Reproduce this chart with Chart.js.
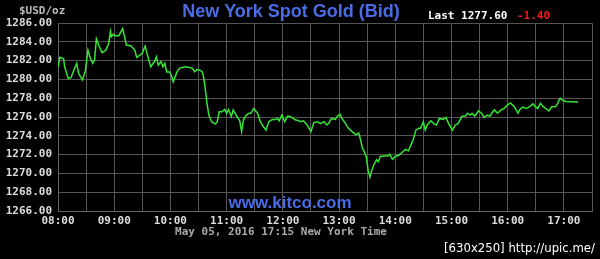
<!DOCTYPE html>
<html>
<head>
<meta charset="utf-8">
<script src="https://cdn.jsdelivr.net/npm/chart.js@4/dist/chart.umd.min.js"></script>
<style>
  html, body { margin: 0; padding: 0; background: #000; }
  #wrap { width: 600px; height: 259px; }
</style>
</head>
<body>
<div id="wrap"><canvas id="goldChart" width="600" height="259"></canvas></div>
<script>
// minutes since midnight, New York time
const times = [
  480, 482, 486, 487, 491, 494, 497, 500, 502, 506, 509, 512, 514, 517, 519, 521, 524, 527, 531, 534,
  536, 537, 539, 541, 545, 549, 551, 553, 558, 562, 564, 568, 570, 573, 576, 579, 583, 585, 587, 590,
  592, 594, 596, 599, 601, 603, 607, 610, 616, 619, 623, 626, 628, 631, 634, 635, 637, 639, 641, 644,
  648, 650, 652, 655, 658, 660, 662, 665, 667, 671, 674, 676, 678, 681, 684, 686, 689, 693, 696, 698,
  702, 705, 709, 711, 714, 716, 719, 722, 725, 728, 731, 733, 737, 739, 742, 746, 750, 753, 757, 760,
  764, 767, 769, 772, 776, 778, 781, 783, 787, 790, 794, 798, 801, 803, 805, 806, 809, 811, 813, 815,
  817, 820, 822, 824, 828, 832, 834, 837, 840, 844, 848, 851, 854, 856, 859, 862, 865, 867, 870, 872,
  874, 878, 881, 884, 887, 891, 894, 897, 901, 904, 907, 911, 915, 917, 920, 922, 925, 929, 932, 935,
  938, 941, 944, 946, 949, 953, 956, 960, 963, 967, 971, 973, 976, 980, 984, 987, 989, 992, 995, 998,
  1002, 1004, 1007, 1011, 1013, 1016, 1019, 1022, 1035
];
const prices = [
  1281.3, 1282.35, 1282.2, 1281.35, 1280.1, 1280.2, 1281.0, 1281.7, 1280.65, 1279.95, 1280.8, 1283.1, 1282.4, 1281.7, 1282.05, 1284.3, 1283.5, 1282.85, 1283.1, 1283.8,
  1285.1, 1284.55, 1284.8, 1284.65, 1284.65, 1285.4, 1284.55, 1283.65, 1283.55, 1283.1, 1282.35, 1282.6, 1282.8, 1283.55, 1282.4, 1281.35, 1281.9, 1282.4, 1281.5, 1281.9,
  1281.35, 1281.7, 1280.8, 1280.8, 1280.45, 1279.75, 1280.8, 1281.2, 1281.35, 1281.3, 1281.2, 1280.8, 1281.05, 1281.0, 1280.8, 1280.45, 1279.2, 1277.45, 1276.2, 1275.5,
  1275.25, 1275.5, 1276.55, 1276.55, 1276.8, 1276.4, 1276.8, 1276.05, 1276.75, 1276.05, 1275.6, 1274.45, 1275.7, 1276.2, 1276.4, 1276.4, 1276.9, 1276.4, 1275.5, 1275.15,
  1274.6, 1275.5, 1275.75, 1275.7, 1275.85, 1275.6, 1276.2, 1275.5, 1276.1, 1276.05, 1275.85, 1275.7, 1275.6, 1275.5, 1275.6, 1275.15, 1274.45, 1275.4, 1275.5, 1275.3,
  1275.5, 1275.15, 1275.35, 1275.85, 1275.75, 1276.05, 1276.3, 1275.85, 1275.3, 1274.8, 1274.45, 1274.1, 1274.3, 1273.55, 1272.65, 1272.5, 1271.8, 1270.35, 1269.6, 1270.35,
  1270.9, 1271.45, 1271.25, 1271.8, 1271.85, 1271.85, 1272.05, 1271.5, 1271.8, 1271.95, 1272.3, 1272.55, 1272.4, 1272.85, 1273.55, 1274.6, 1274.8, 1274.8, 1275.5, 1274.6,
  1275.15, 1275.6, 1275.3, 1275.15, 1275.85, 1275.75, 1275.95, 1275.3, 1274.6, 1275.15, 1275.3, 1276.05, 1276.1, 1276.4, 1276.2, 1276.4, 1276.1, 1276.65, 1276.4, 1275.95,
  1276.2, 1276.1, 1276.55, 1276.75, 1276.4, 1276.75, 1276.9, 1277.3, 1277.5, 1277.1, 1276.4, 1276.8, 1277.05, 1276.9, 1277.15, 1277.4, 1277.15, 1276.9, 1277.45, 1277.1,
  1276.8, 1276.65, 1277.1, 1277.1, 1277.4, 1278.0, 1277.75, 1277.65, 1277.6
];

const yTicks = [1266, 1268, 1270, 1272, 1274, 1276, 1278, 1280, 1282, 1284, 1286];
const xTicks = [480, 510, 540, 570, 600, 630, 660, 690, 720, 750, 780, 810, 840, 870, 900, 930, 960, 990, 1020, 1050];

const titleText = 'New York Spot Gold (Bid)';
const lastText = 'Last 1277.60';
const changeText = '-1.40';
const unitText = '$USD/oz';
const dateText = 'May 05, 2016 17:15 New York Time';
const siteText = 'www.kitco.com';
const stampText = '[630x250] http://upic.me/';

const mono = 'bold 11px "DejaVu Sans Mono", monospace';

const points = times.map((t, i) => ({ x: t, y: prices[i] }));

const fmtTime = (m) => {
  const h = Math.floor(m / 60);
  const mm = m % 60;
  return String(h).padStart(2, '0') + ':' + String(mm).padStart(2, '0');
};

// texts around the plot
const textPlugin = {
  id: 'kitcoTexts',
  afterDraw(chart) {
    const ctx = chart.ctx;
    ctx.save();
    ctx.textBaseline = 'middle';

    ctx.font = 'bold 18px "Liberation Sans", Arial, sans-serif';
    ctx.fillStyle = '#4a6ce6';
    ctx.textAlign = 'center';
    ctx.fillText(titleText, 291, 12);

    ctx.font = mono;
    ctx.textAlign = 'left';
    ctx.fillStyle = '#ffffff';
    ctx.fillText(lastText, 428, 16);
    ctx.fillStyle = '#ff1a1a';
    ctx.fillText(changeText, 517, 16);

    ctx.fillStyle = '#bbbbbb';
    ctx.fillText(unitText, 19, 11);

    ctx.textAlign = 'center';
    ctx.fillStyle = '#aaaaaa';
    ctx.fillText(dateText, 281, 232);

    ctx.font = 'bold 17px "Liberation Sans", Arial, sans-serif';
    ctx.fillStyle = '#4a6ce6';
    ctx.fillText(siteText, 290, 203);

    ctx.font = '13px "DejaVu Sans Condensed", "Liberation Sans Narrow", sans-serif';
    ctx.fillStyle = '#ffffff';
    ctx.textAlign = 'right';
    ctx.fillText(stampText, 595, 249);
    ctx.restore();
  }
};

const bgPlugin = {
  id: 'blackBg',
  beforeDraw(chart) {
    const ctx = chart.ctx;
    ctx.save();
    ctx.fillStyle = '#000';
    ctx.fillRect(0, 0, chart.width, chart.height);
    ctx.restore();
  }
};

const config = {
  type: 'line',
  data: {
    datasets: [{
      data: points,
      borderColor: '#33e633',
      borderWidth: 1.5,
      pointRadius: 0,
      tension: 0,
      fill: false
    }]
  },
  options: {
    responsive: false,
    animation: false,
    events: [],
    layout: { padding: { left: 0, top: 23, right: 8, bottom: 0 } },
    plugins: { legend: { display: false }, tooltip: { enabled: false } },
    scales: {
      x: {
        type: 'linear',
        min: 480,
        max: 1050,
        afterBuildTicks: (scale) => { scale.ticks = xTicks.map(v => ({ value: v })); },
        afterFit: (scale) => { scale.height = 48; },
        grid: { color: '#555', lineWidth: 1, drawTicks: false },
        border: { color: '#666', width: 1 },
        ticks: {
          autoSkip: false,
          maxRotation: 0,
          padding: 4,
          color: '#dddddd',
          font: { family: '"DejaVu Sans Mono", monospace', size: 11, weight: 'bold' },
          callback: (v) => (v % 60 === 0 ? fmtTime(v) : '')
        }
      },
      y: {
        min: 1266,
        max: 1286,
        afterBuildTicks: (scale) => { scale.ticks = yTicks.map(v => ({ value: v })); },
        afterFit: (scale) => { scale.width = 58; },
        grid: { color: '#555', lineWidth: 1, drawTicks: false },
        border: { color: '#666', width: 1 },
        ticks: {
          padding: 6,
          color: '#dddddd',
          font: { family: '"DejaVu Sans Mono", monospace', size: 11, weight: 'bold' },
          callback: (v) => v.toFixed(2)
        }
      }
    }
  },
  plugins: [bgPlugin, textPlugin]
};

new Chart(document.getElementById('goldChart'), config);
</script>
</body>
</html>
